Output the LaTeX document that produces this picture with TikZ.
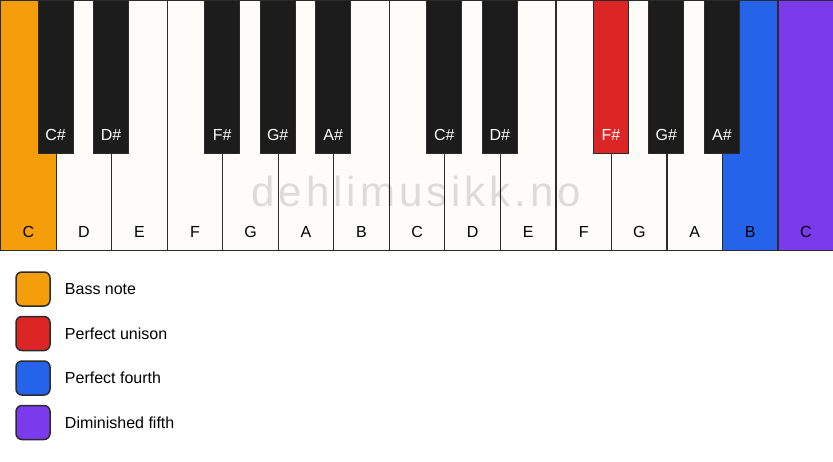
\documentclass[tikz,border=0pt]{standalone}
\usepackage{fontspec}
\setmainfont{Liberation Sans}
\newfontfamily\markfont[LetterSpace=9.5]{Liberation Sans}
\usetikzlibrary{positioning}
\definecolor{ivory}{RGB}{253,252,248}
\definecolor{keyline}{RGB}{43,43,43}
\definecolor{ebony}{RGB}{28,28,28}
\definecolor{bass}{HTML}{F59E0B}
\definecolor{unison}{HTML}{DC2626}
\definecolor{fourth}{HTML}{2563EB}
\definecolor{dimfifth}{HTML}{7C3AED}
\tikzset{
  whitekey/.style={draw=keyline, line width=1.2pt, fill=ivory, anchor=north west,
    minimum width=55.53pt, minimum height=250pt, inner sep=0pt},
  blackkey/.style={draw=keyline, line width=1pt, fill=ebony, anchor=north,
    minimum width=35pt, minimum height=153pt, inner sep=0pt},
  whitename/.style={anchor=base, inner sep=0pt, text=black, font=\fontsize{16}{19}\selectfont},
  blackname/.style={whitename, text=white},
  swatch/.style={draw=keyline, line width=1.5pt, rounded corners=6pt,
    minimum size=34pt, inner sep=0pt},
  legtext/.style={anchor=west, inner sep=0pt, font=\fontsize{16}{19}\selectfont}
}

\begin{document}
\begin{tikzpicture}[x=1pt, y=-1pt]
  \useasboundingbox (0,0) rectangle (833,461);
  % white keys
  \node[whitekey, fill=bass] (w1) at (0,0) {};
  \node[whitekey] (w2) at (55.53,0) {};
  \node[whitekey] (w3) at (111.07,0) {};
  \node[whitekey] (w4) at (166.6,0) {};
  \node[whitekey] (w5) at (222.13,0) {};
  \node[whitekey] (w6) at (277.67,0) {};
  \node[whitekey] (w7) at (333.2,0) {};
  \node[whitekey] (w8) at (388.73,0) {};
  \node[whitekey] (w9) at (444.27,0) {};
  \node[whitekey] (w10) at (499.8,0) {};
  \node[whitekey] (w11) at (555.33,0) {};
  \node[whitekey] (w12) at (610.87,0) {};
  \node[whitekey] (w13) at (666.4,0) {};
  \node[whitekey, fill=fourth] (w14) at (721.93,0) {};
  \node[whitekey, fill=dimfifth] (w15) at (777.47,0) {};
  \node[whitename] at ([yshift=14pt]w1.south) {C};
  \node[whitename] at ([yshift=14pt]w2.south) {D};
  \node[whitename] at ([yshift=14pt]w3.south) {E};
  \node[whitename] at ([yshift=14pt]w4.south) {F};
  \node[whitename] at ([yshift=14pt]w5.south) {G};
  \node[whitename] at ([yshift=14pt]w6.south) {A};
  \node[whitename] at ([yshift=14pt]w7.south) {B};
  \node[whitename] at ([yshift=14pt]w8.south) {C};
  \node[whitename] at ([yshift=14pt]w9.south) {D};
  \node[whitename] at ([yshift=14pt]w10.south) {E};
  \node[whitename] at ([yshift=14pt]w11.south) {F};
  \node[whitename] at ([yshift=14pt]w12.south) {G};
  \node[whitename] at ([yshift=14pt]w13.south) {A};
  \node[whitename] at ([yshift=14pt]w14.south) {B};
  \node[whitename] at ([yshift=14pt]w15.south) {C};
  % watermark
  \node[text=black, text opacity=0.13, inner sep=0pt, font=\fontsize{42}{48}\markfont]
    (mark) at (416.5,191) {dehlimusikk.no};
  % black keys
  \node[blackkey] (b1) at (55.53,0) {};
  \node[blackkey] (b2) at (111.07,0) {};
  \node[blackkey] (b3) at (222.13,0) {};
  \node[blackkey] (b4) at (277.67,0) {};
  \node[blackkey] (b5) at (333.2,0) {};
  \node[blackkey] (b6) at (444.27,0) {};
  \node[blackkey] (b7) at (499.8,0) {};
  \node[blackkey, fill=unison] (b8) at (610.87,0) {};
  \node[blackkey] (b9) at (666.4,0) {};
  \node[blackkey] (b10) at (721.93,0) {};
  \node[blackname] at ([yshift=14pt]b1.south) {C\#};
  \node[blackname] at ([yshift=14pt]b2.south) {D\#};
  \node[blackname] at ([yshift=14pt]b3.south) {F\#};
  \node[blackname] at ([yshift=14pt]b4.south) {G\#};
  \node[blackname] at ([yshift=14pt]b5.south) {A\#};
  \node[blackname] at ([yshift=14pt]b6.south) {C\#};
  \node[blackname] at ([yshift=14pt]b7.south) {D\#};
  \node[blackname] at ([yshift=14pt]b8.south) {F\#};
  \node[blackname] at ([yshift=14pt]b9.south) {G\#};
  \node[blackname] at ([yshift=14pt]b10.south) {A\#};
  % legend
  \node[swatch, fill=bass] (sw1) at (33,289) {};
  \node[legtext, right=14pt of sw1] (lg1) {Bass note};
  \node[swatch, fill=unison] (sw2) at (33,333.5) {};
  \node[legtext, right=14pt of sw2] (lg2) {Perfect unison};
  \node[swatch, fill=fourth] (sw3) at (33,378) {};
  \node[legtext, right=14pt of sw3] (lg3) {Perfect fourth};
  \node[swatch, fill=dimfifth] (sw4) at (33,422.5) {};
  \node[legtext, right=14pt of sw4] (lg4) {Diminished fifth};
\end{tikzpicture}
\end{document}
